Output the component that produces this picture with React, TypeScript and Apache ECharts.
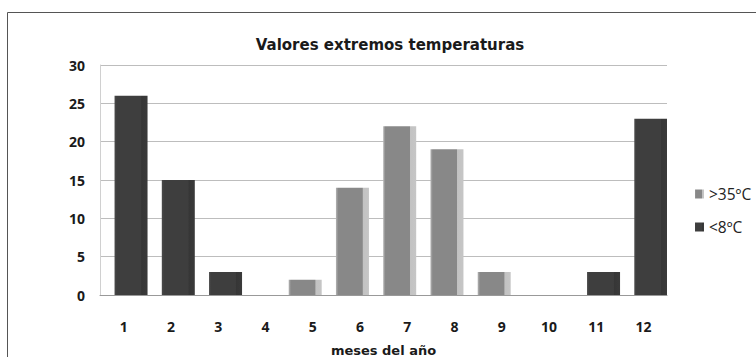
import React, { useEffect, useRef } from "react";
import * as echarts from "echarts";

const months = ["1", "2", "3", "4", "5", "6", "7", "8", "9", "10", "11", "12"];
const hot = [0, 0, 0, 0, 2, 14, 22, 19, 3, 0, 0, 0];
const cold = [26, 15, 3, 0, 0, 0, 0, 0, 0, 0, 3, 23];
const yTicks = { min: 0, max: 30, interval: 5 };

export default function App() {
  const ref = useRef<HTMLDivElement>(null);
  useEffect(() => {
    document.body.style.margin = "0";
    const chart = echarts.init(ref.current!, null, { renderer: "svg" });
    const lightGrad = new echarts.graphic.LinearGradient(0, 0, 1, 0, [
      { offset: 0, color: "#b4b4b4" },
      { offset: 0.07, color: "#888888" },
      { offset: 0.8, color: "#888888" },
      { offset: 0.82, color: "#c2c2c2" },
      { offset: 1, color: "#c6c6c6" },
    ]);
    const darkGrad = new echarts.graphic.LinearGradient(0, 0, 1, 0, [
      { offset: 0, color: "#4a4a4a" },
      { offset: 0.07, color: "#3e3e3e" },
      { offset: 0.8, color: "#3e3e3e" },
      { offset: 0.82, color: "#363636" },
      { offset: 1, color: "#3a3a3a" },
    ]);
    chart.setOption({
      animation: false,
      backgroundColor: "#ffffff",
      title: {
        text: "Valores extremos temperaturas",
        left: 385,
        textAlign: "center",
        top: 32,
        textStyle: {
          fontFamily: "DejaVu Sans",
          fontWeight: "bold",
          fontSize: 15,
          color: "#1a1a1a",
        },
      },
      graphic: [
        {
          type: "rect",
          shape: { x: 7.5, y: 12.5, width: 800, height: 400 },
          style: { fill: "none", stroke: "#555555", lineWidth: 1 },
          silent: true,
        },
      ],
      legend: {
        orient: "vertical",
        left: 690,
        top: 181,
        itemWidth: 9,
        itemHeight: 9,
        itemGap: 17,
        icon: "rect",
        textStyle: { fontFamily: "Open Sans", fontSize: 15.5, color: "#222" },
        data: [">35ºC", "<8ºC"],
      },
      grid: { left: 100, right: 89, top: 65, bottom: 62, outerBoundsMode: "none" },
      xAxis: {
        type: "category",
        data: months,
        name: "meses del año",
        nameLocation: "middle",
        nameGap: 49,
        nameTextStyle: {
          fontFamily: "DejaVu Sans",
          fontWeight: "bold",
          fontSize: 13,
          color: "#1a1a1a",
        },
        axisLine: { lineStyle: { color: "#999999" } },
        axisTick: { show: false },
        axisLabel: {
          margin: 24,
          fontFamily: "Open Sans",
          fontWeight: 700,
          fontSize: 14,
          color: "#1a1a1a",
        },
      },
      yAxis: {
        type: "value",
        min: yTicks.min,
        max: yTicks.max,
        interval: yTicks.interval,
        axisLine: { show: true, lineStyle: { color: "#d0d0d0" } },
        axisTick: { show: false },
        splitLine: { lineStyle: { color: "#bdbdbd" } },
        axisLabel: {
          margin: 15,
          fontFamily: "Open Sans",
          fontWeight: 700,
          fontSize: 14,
          color: "#1a1a1a",
        },
      },
      series: [
        {
          name: ">35ºC",
          type: "bar",
          data: hot,
          barWidth: 33,
          barGap: "-55%",
          itemStyle: { color: lightGrad },
        },
        {
          name: "<8ºC",
          type: "bar",
          data: cold,
          barWidth: 33,
          itemStyle: { color: darkGrad },
        },
      ],
    });
    return () => chart.dispose();
  }, []);
  return <div ref={ref} style={{ width: 756, height: 357 }} />;
}
